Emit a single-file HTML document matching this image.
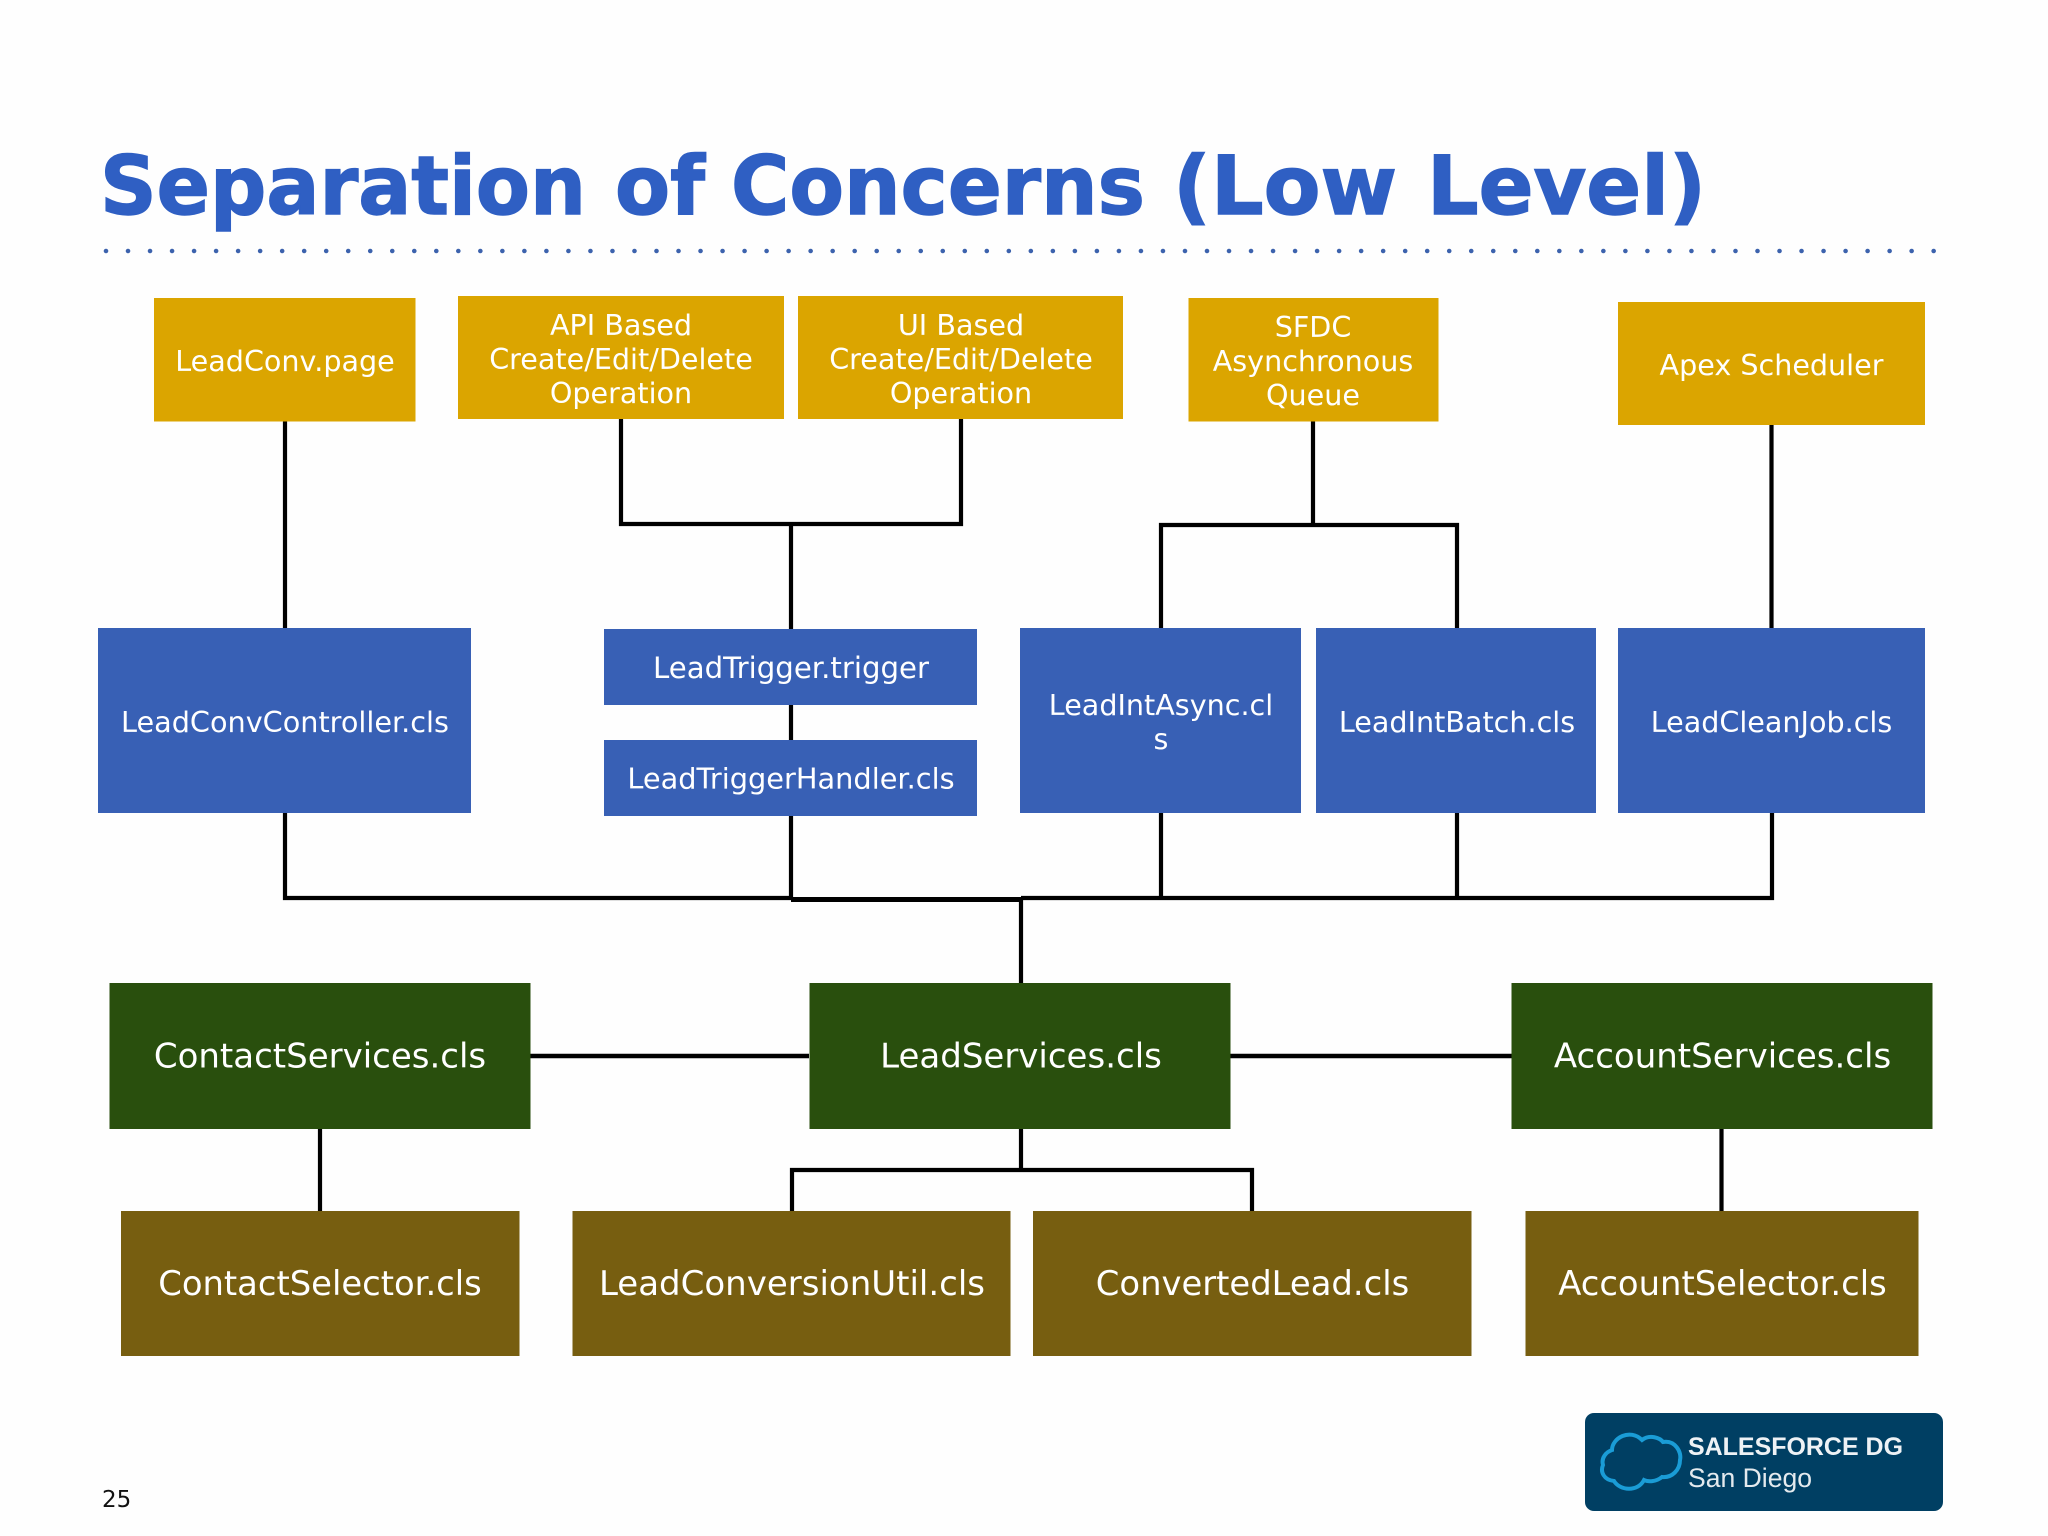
<!DOCTYPE html>
<html><head><meta charset="utf-8"><title>Separation of Concerns (Low Level)</title>
<style>
html,body{margin:0;padding:0;background:#fff}
svg{display:block}
text{font-family:"DejaVu Sans",sans-serif}
.s{font-size:28.6px;fill:#fff;text-anchor:middle}
.b{font-size:33.8px;fill:#fff;text-anchor:middle}
.t{font-size:81px;font-weight:700;fill:#2f5fc3;stroke:#2f5fc3;stroke-width:1.4px}
</style></head><body>
<svg width="2048" height="1536" viewBox="0 0 2048 1536" xmlns="http://www.w3.org/2000/svg">
<rect width="2048" height="1536" fill="#fefefe"/>
<text class="t" x="100" y="214" textLength="486" lengthAdjust="spacingAndGlyphs">Separation</text>
<text class="t" x="615" y="214" textLength="90" lengthAdjust="spacingAndGlyphs">of</text>
<text class="t" x="731" y="214" textLength="414" lengthAdjust="spacingAndGlyphs">Concerns</text>
<text class="t" x="1173" y="214" textLength="224" lengthAdjust="spacingAndGlyphs">(Low</text>
<text class="t" x="1427" y="214" textLength="279" lengthAdjust="spacingAndGlyphs">Level)</text>
<line x1="106" y1="251" x2="1936" y2="251" stroke="#3c62ad" stroke-width="4.6" stroke-linecap="round" stroke-dasharray="0 22.02"/>

<g stroke="#000" fill="none" stroke-width="4.200">
<path d="M285 421V633"/>
<path d="M621 419V524H961V419" stroke-linejoin="miter"/>
<path d="M791 524V740"/>
<path d="M1313 421V525"/>
<path d="M1161 633V525H1457V633"/>
<path d="M1771.500 425V633"/>
<path d="M285 813V898H791"/>
<path d="M791 815V899"/>
<path d="M791 899.500H1021" stroke-width="5"/>
<path d="M1021 898H1772V813"/>
<path d="M1161 813V898M1457 813V898"/>
<path d="M1021 898V983"/>
<path d="M530 1056H809M1230 1056H1512" stroke-width="4.500"/>
<path d="M320 1129V1211"/>
<path d="M1021 1129V1170"/>
<path d="M792 1211V1170H1252V1211"/>
<path d="M1721.500 1129V1211"/>
</g>

<g fill="#dba500">
<rect x="154" y="298" width="261.500" height="123.500"/>
<rect x="458" y="296" width="326" height="123"/>
<rect x="798" y="296" width="325" height="123"/>
<rect x="1188.500" y="298" width="250" height="123.500"/>
<rect x="1618" y="302" width="307" height="123"/>
</g>
<g class="y">
<text class="s" x="285" y="371">LeadConv.page</text>
<text class="s" x="621" y="335">API Based</text>
<text class="s" x="621" y="369">Create/Edit/Delete</text>
<text class="s" x="621" y="403">Operation</text>
<text class="s" x="961" y="335">UI Based</text>
<text class="s" x="961" y="369">Create/Edit/Delete</text>
<text class="s" x="961" y="403">Operation</text>
<text class="s" x="1313" y="337">SFDC</text>
<text class="s" x="1313" y="371">Asynchronous</text>
<text class="s" x="1313" y="405">Queue</text>
<text class="s" x="1771.500" y="375">Apex Scheduler</text>
</g>

<g fill="#3860b5">
<rect x="98" y="628" width="373" height="185"/>
<rect x="604" y="629" width="373" height="76"/>
<rect x="604" y="740" width="373" height="76"/>
<rect x="1020" y="628" width="281" height="185"/>
<rect x="1316" y="628" width="280" height="185"/>
<rect x="1618" y="628" width="307" height="185"/>
</g>
<text class="s" x="285" y="732" style="font-size:28.700px">LeadConvController.cls</text>
<text class="s" x="791" y="678" style="font-size:29.200px">LeadTrigger.trigger</text>
<text class="s" x="791" y="788.500" style="font-size:28.800px">LeadTriggerHandler.cls</text>
<text class="s" x="1161" y="715">LeadIntAsync.cl</text>
<text class="s" x="1161" y="749">s</text>
<text class="s" x="1457" y="732">LeadIntBatch.cls</text>
<text class="s" x="1771.500" y="732">LeadCleanJob.cls</text>

<g fill="#294f0d">
<rect x="109.500" y="983" width="421" height="146"/>
<rect x="809.500" y="983" width="421" height="146"/>
<rect x="1511.500" y="983" width="421" height="146"/>
</g>
<text class="b" x="320" y="1067.500" style="font-size:34px">ContactServices.cls</text>
<text class="b" x="1021" y="1067.500" style="font-size:34px">LeadServices.cls</text>
<text class="b" x="1722.500" y="1067.500" style="font-size:34px">AccountServices.cls</text>

<g fill="#775e10">
<rect x="121" y="1211" width="398.500" height="145"/>
<rect x="572.500" y="1211" width="438" height="145"/>
<rect x="1033" y="1211" width="438.500" height="145"/>
<rect x="1525.500" y="1211" width="393" height="145"/>
</g>
<text class="b" x="320" y="1295">ContactSelector.cls</text>
<text class="b" x="792" y="1295" style="font-size:34px">LeadConversionUtil.cls</text>
<text class="b" x="1252.500" y="1295">ConvertedLead.cls</text>
<text class="b" x="1722.500" y="1295">AccountSelector.cls</text>

<text x="102" y="1507" font-size="23" fill="#111">25</text>

<rect x="1585" y="1413" width="358" height="98" rx="9" fill="#003f63"/>
<path d="M1612 1450C1612 1438 1630 1428 1642 1440C1650 1434 1660 1438 1663 1442C1675 1440 1682 1452 1680 1460C1680 1470 1672 1478 1662 1477C1656 1482 1648 1482 1644 1480C1638 1492 1620 1491 1614 1481C1604 1480 1600 1472 1603 1465C1601 1458 1606 1452 1612 1450Z" fill="none" stroke="#1a9cd6" stroke-width="4"/>
<text x="1688" y="1455" font-size="25" font-weight="700" fill="#eef2f5" textLength="215" lengthAdjust="spacingAndGlyphs" style="font-family:'Liberation Sans',sans-serif">SALESFORCE DG</text>
<text x="1688" y="1487" font-size="27" fill="#e4eaee" textLength="124" lengthAdjust="spacingAndGlyphs" style="font-family:'Liberation Sans',sans-serif">San Diego</text>
</svg>
</body></html>
